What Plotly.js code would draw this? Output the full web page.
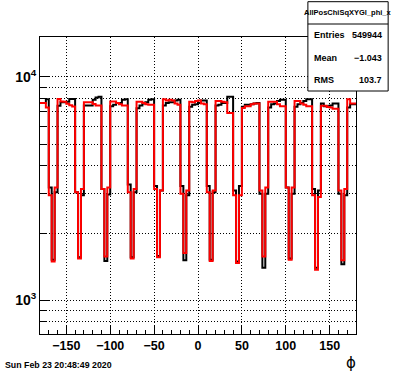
<!DOCTYPE html>
<html><head><meta charset="utf-8">
<script src="https://cdn.plot.ly/plotly-3.0.1.min.js"></script>
<style>html,body{margin:0;padding:0;background:#fff}#c{width:396px;height:372px}</style>
</head><body><div id="c"></div>
<script>
// ---- data (phi histogram, 108 bins from -180 to 180) ----
const xMin = -180, xMax = 180;
const blackCounts = [
  7650, 7650, 7950,
  3200, 1520, 3050,
  7430, 7700, 7700, 7750, 7960, 7960,
  3050, 1560, 2950,
  7450, 7450, 7450, 7900, 8100, 8150,
  3150, 1500, 2980,
  7400, 7500, 7650, 7650, 7900, 7950,
  3300, 1560, 3050,
  7250, 7450, 7600, 7700, 7900, 7950,
  3250, 1580, 3100,
  7450, 7650, 7700, 7700, 7850, 7900,
  3250, 1510, 2950,
  7350, 7500, 7550, 7650, 7850, 7850,
  3250, 1520, 3050,
  7450, 7500, 7650, 7650, 8150, 8150,
  3100, 1490, 3250,
  7350, 7500, 7500, 7550, 7600, 7650,
  3000, 1400, 3000,
  7300, 7550, 7600, 7800, 7900, 7900,
  3200, 1540, 3000,
  7350, 7550, 7650, 7800, 7950, 7950,
  3150, 1400, 3100,
  7600, 7400, 7400, 7450, 7600, 7600,
  3000, 1450, 2950,
  7300, 7550, 7550
];
const redCounts = [
  7650, 7650, 7300,
  2950, 1490, 3200,
  7960, 7770, 7750, 7590, 7470, 7380,
  3050, 1540, 3150,
  7700, 7700, 7700, 7560, 7450, 7450,
  3150, 1570, 3200,
  7770, 7770, 7650, 7550, 7450, 7450,
  3050, 1540, 3150,
  7750, 7750, 7650, 7550, 7500, 7500,
  3150, 1560, 3100,
  7950, 7850, 7900, 7850, 7600, 7500,
  3000, 1630, 3100,
  7750, 7700, 7800, 7850, 7600, 7550,
  3050, 1500, 3100,
  7800, 7800, 7750, 7700, 6900, 6900,
  2950, 1470, 2950,
  7260, 7400, 7400, 7550, 7600, 7600,
  3100, 1570, 3200,
  7750, 7750, 7750, 7550, 7400, 7400,
  3200, 1520, 3200,
  7800, 7800, 7600, 7500, 7400, 7400,
  2950, 1370, 2900,
  7430, 7430, 7330, 7300, 7200, 7200,
  3100, 1510, 3150,
  7950, 7600, 7600
];
const yTickVals = [1000, 10000];
const yTickText = ['10<sup>3</sup>', '10<sup>4</sup>'];
const yMinorVals = [800, 900, 2000, 3000, 4000, 5000, 6000, 7000, 8000, 9000];
const statsTitle = 'AllPosChiSqXYGl_phi_x';
const statsNames = ['Entries', 'Mean', 'RMS'];
const statsValues = ['549944', '\u22121.043', '103.7'];
const dateText = 'Sun Feb 23 20:48:49 2020';
const xTitle = '\u03d5';

// ---- build step traces from bin contents ----
function stepXY(counts) {
  const n = counts.length, w = (xMax - xMin) / n;
  const xs = [], ys = [];
  for (let i = 0; i < n; i++) { xs.push(xMin + i * w); ys.push(counts[i]); }
  xs.push(xMax); ys.push(counts[n - 1]);
  return {xs, ys};
}
const b = stepXY(blackCounts), r = stepXY(redCounts);

const W = 396, H = 372, L = 40, R = 39.5, T = 37, B = 38;
const pw = W - L - R, ph = H - T - B;
const px = v => (v - L) / pw, py = v => (H - B - v) / ph;
const FONT = 'Liberation Sans, Arial, Helvetica, sans-serif';
const DOT = '1px,2px';
const bold = s => '<b>' + s + '</b>';

const traces = [
  {type: 'scatter', mode: 'lines', x: b.xs, y: b.ys, line: {shape: 'hv', color: '#000', width: 2}, hoverinfo: 'skip'},
  {type: 'scatter', mode: 'lines', x: r.xs, y: r.ys, line: {shape: 'hv', color: '#ff0000', width: 2}, hoverinfo: 'skip'}
];

const annotations = [
  {xref: 'paper', yref: 'paper', x: px(348.5), y: py(13), text: bold(statsTitle), showarrow: false, xanchor: 'center', yanchor: 'middle', font: {size: 7.5, family: FONT, color: '#000'}},
  {xref: 'paper', yref: 'paper', x: px(2.5), y: py(365), text: bold(dateText), showarrow: false, xanchor: 'left', yanchor: 'middle', font: {size: 8.8, family: FONT, color: '#000'}},
  {xref: 'paper', yref: 'paper', x: px(351.5), y: py(362.5), text: xTitle, showarrow: false, xanchor: 'center', yanchor: 'middle', font: {size: 15, family: 'DejaVu Sans, sans-serif', color: '#000'}}
];
const rowY = [35, 57.7, 80];
statsNames.forEach((n, i) => {
  annotations.push({xref: 'paper', yref: 'paper', x: px(312.5), y: py(rowY[i]), text: bold(n), showarrow: false, xanchor: 'left', yanchor: 'middle', font: {size: 9, family: FONT, color: '#000'}});
  annotations.push({xref: 'paper', yref: 'paper', x: px(384.5), y: py(rowY[i]), text: bold(statsValues[i]), showarrow: false, xanchor: 'right', yanchor: 'middle', font: {size: 9, family: FONT, color: '#000'}});
});

const shapes = [
  {type: 'rect', xref: 'paper', yref: 'paper', x0: px(308.3), x1: px(388.7), y0: py(91), y1: py(1.7), fillcolor: '#fff', line: {color: '#000', width: 1}, layer: 'above'},
  {type: 'line', xref: 'paper', yref: 'paper', x0: px(308.3), x1: px(388.7), y0: py(24), y1: py(24), line: {color: '#000', width: 1}, layer: 'above'}
];

const layout = {
  width: W, height: H, margin: {l: L, r: R, t: T, b: B, pad: 0}, showlegend: false,
  paper_bgcolor: '#fff', plot_bgcolor: '#fff',
  font: {family: FONT, color: '#000'},
  xaxis: {
    range: [xMin, xMax], tickmode: 'linear', tick0: 0, dtick: 50,
    ticks: 'inside', ticklen: 9, tickwidth: 1, tickcolor: '#000',
    showline: true, linecolor: '#000', linewidth: 1, mirror: true,
    showgrid: true, gridcolor: '#000', gridwidth: 1, griddash: DOT, zeroline: false,
    tickfont: {size: 12.5, family: FONT, color: '#000', weight: 'bold'},
    minor: {tickmode: 'linear', tick0: 0, dtick: 10, ticks: 'inside', ticklen: 4.5, tickwidth: 1, tickcolor: '#000', showgrid: false}
  },
  yaxis: {
    type: 'log', range: [2.849, 4.179], tickmode: 'array', tickvals: yTickVals, ticktext: yTickText,
    ticks: 'inside', ticklen: 10, tickwidth: 1, tickcolor: '#000',
    showline: true, linecolor: '#000', linewidth: 1, mirror: true,
    showgrid: true, gridcolor: '#000', gridwidth: 1, griddash: DOT, zeroline: false,
    tickfont: {size: 14, family: FONT, color: '#000', weight: 'bold'},
    minor: {tickmode: 'array', tickvals: yMinorVals, ticks: 'inside', ticklen: 5.5, tickwidth: 1, tickcolor: '#000', showgrid: true, gridcolor: '#000', gridwidth: 1, griddash: DOT}
  },
  annotations, shapes
};

Plotly.newPlot('c', traces, layout, {staticPlot: true, displayModeBar: false});
</script>
</body></html>
